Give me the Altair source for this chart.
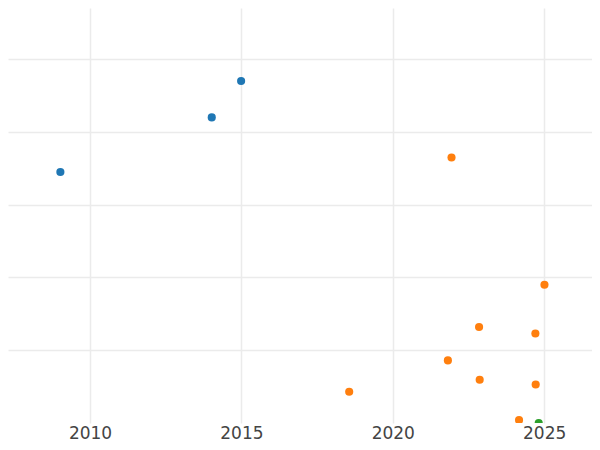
import altair as alt
import pandas as pd

# data (x = year, y = value in arbitrary units)
years = [2009.02, 2014.02, 2014.99,
         2021.94, 2025.01, 2022.85, 2024.71, 2021.82, 2022.87, 2024.72, 2018.56, 2024.17,
         2024.82]
values = [34.5, 42.0, 47.0,
          36.5, 19.0, 13.2, 12.3, 8.6, 5.95, 5.3, 4.3, 0.4,
          0.0]
groups = ["A", "A", "A",
          "B", "B", "B", "B", "B", "B", "B", "B", "B",
          "C"]

group_names = ["A", "B", "C"]
group_colors = ["#1f77b4", "#ff7f0e", "#2ca02c"]
x_ticks = [2010, 2015, 2020, 2025]
y_grid = [10, 20, 30, 40, 50]

df = pd.DataFrame({"year": years, "value": values, "group": groups})

chart = (
    alt.Chart(df)
    .mark_circle(size=66, opacity=1, clip=True)
    .encode(
        x=alt.X(
            "year:Q",
            scale=alt.Scale(domain=[2007.29, 2026.58], nice=False, zero=False),
            axis=alt.Axis(
                values=x_ticks,
                format="d",
                title=None,
                ticks=False,
                domain=False,
                labelFont="DejaVu Sans",
                labelFontSize=17,
                labelColor="#444444",
                labelPadding=2,
                grid=True,
                gridColor="#ebebeb",
                gridWidth=1.5,
                labelFlush=False,
            ),
        ),
        y=alt.Y(
            "value:Q",
            scale=alt.Scale(domain=[0, 57.04], nice=False, zero=False),
            axis=alt.Axis(
                values=y_grid,
                labels=False,
                ticks=False,
                domain=False,
                title=None,
                grid=True,
                gridColor="#ebebeb",
                gridWidth=1.5,
            ),
        ),
        color=alt.Color(
            "group:N",
            scale=alt.Scale(domain=group_names, range=group_colors),
            legend=None,
        ),
    )
    .properties(width=584, height=415, padding=0)
    .configure_view(stroke=None)
)

chart.save("out.html", embed_options={"renderer": "svg", "actions": False})
